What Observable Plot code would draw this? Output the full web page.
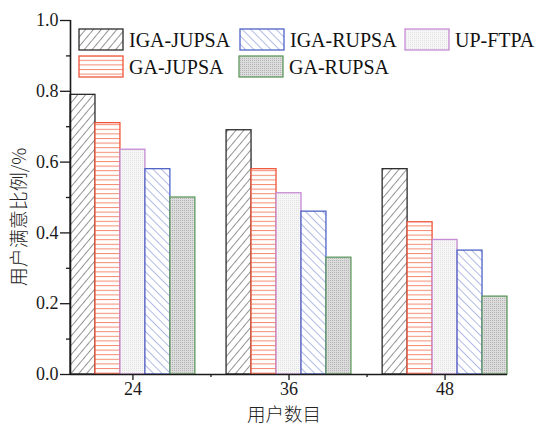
<!DOCTYPE html>
<html><head><meta charset="utf-8">
<script src="https://cdn.jsdelivr.net/npm/d3@7"></script>
<script src="https://cdn.jsdelivr.net/npm/@observablehq/plot@0.6"></script>
<style>body{margin:0;background:#fff}</style>
</head><body><div id="chart"></div>
<script>
const groups = [24, 36, 48];
const seriesNames = ["IGA-JUPSA", "GA-JUPSA", "UP-FTPA", "IGA-RUPSA", "GA-RUPSA"];
const IGA_JUPSA = [0.79, 0.69, 0.58];
const GA_JUPSA  = [0.71, 0.58, 0.43];
const UP_FTPA   = [0.635, 0.512, 0.38];
const IGA_RUPSA = [0.58, 0.46, 0.35];
const GA_RUPSA  = [0.50, 0.33, 0.22];
const seriesValues = [IGA_JUPSA, GA_JUPSA, UP_FTPA, IGA_RUPSA, GA_RUPSA];
const strokeColors = ["#2b2b2b", "#f0553a", "#c58bd3", "#4f63c6", "#5f9a5f"];
const yTicks = [0, 0.2, 0.4, 0.6, 0.8, 1.0];
const yMinor = [0.1, 0.3, 0.5, 0.7, 0.9];
const xMinor = [30, 42];
const xLabel = "用户数目";
const yLabel = "用户满意比例/%";

const groupWidth = 9.6, barW = groupWidth / seriesNames.length;
const serif = "'Liberation Serif', 'Times New Roman', serif";
const cjk = "'Noto Sans CJK SC', sans-serif";

const barMarks = seriesNames.map((name, i) =>
  Plot.rect(groups.map((g, j) => ({g, v: seriesValues[i][j]})), {
    x1: d => d.g - groupWidth / 2 + i * barW,
    x2: d => d.g - groupWidth / 2 + (i + 1) * barW,
    y1: 0, y2: "v",
    fill: `url(#pat${i})`, stroke: strokeColors[i], strokeWidth: 1.3
  })
);

const chart = Plot.plot({
  width: 538, height: 426,
  marginLeft: 70, marginTop: 20, marginBottom: 52, marginRight: 31,
  style: {fontFamily: serif, fontSize: "18px", background: "#fff", color: "#1a1a1a"},
  x: {type: "linear", domain: [19.2, 52.8]},
  y: {domain: [0, 1]},
  marks: [
    ...barMarks,
    Plot.axisY({ticks: yTicks, tickSize: 10, tickPadding: 2, tickFormat: d3.format(".1f"), fontSize: 18, label: null, strokeWidth: 1.3}),
    Plot.axisY({ticks: yMinor, tickSize: 4, tickFormat: () => "", label: null, strokeWidth: 1.3}),
    Plot.axisX({ticks: groups, tickSize: 6, tickPadding: 2, fontSize: 18, label: null, strokeWidth: 1.3}),
    Plot.axisX({ticks: xMinor, tickSize: 3, tickFormat: () => "", label: null, strokeWidth: 1.3}),
    Plot.ruleX([19.2], {strokeWidth: 1.6, stroke: "#1a1a1a"}),
    Plot.ruleY([0], {strokeWidth: 1.6, stroke: "#1a1a1a"})
  ]
});

const svg = d3.select(chart);
const defs = svg.insert("defs", ":first-child");
{
  const p = defs.append("pattern").attr("id", "pat0").attr("patternUnits", "userSpaceOnUse")
    .attr("width", 6).attr("height", 6).attr("patternTransform", "rotate(40)");
  p.append("rect").attr("width", 6).attr("height", 6).attr("fill", "#fff");
  p.append("line").attr("x1", 0).attr("y1", 0).attr("x2", 0).attr("y2", 6).attr("stroke", "#3a3a3a").attr("stroke-width", 1.1);
}
{
  const p = defs.append("pattern").attr("id", "pat1").attr("patternUnits", "userSpaceOnUse")
    .attr("width", 6).attr("height", 4.6);
  p.append("rect").attr("width", 6).attr("height", 4.6).attr("fill", "#fff");
  p.append("line").attr("x1", 0).attr("y1", 0.5).attr("x2", 6).attr("y2", 0.5).attr("stroke", "#f58a70").attr("stroke-width", 1);
}
{
  const p = defs.append("pattern").attr("id", "pat2").attr("patternUnits", "userSpaceOnUse")
    .attr("width", 2).attr("height", 2);
  p.append("rect").attr("width", 2).attr("height", 2).attr("fill", "#f6f6f6");
  p.append("rect").attr("width", 1).attr("height", 1).attr("fill", "#e2e2e2");
}
{
  const p = defs.append("pattern").attr("id", "pat3").attr("patternUnits", "userSpaceOnUse")
    .attr("width", 6).attr("height", 6).attr("patternTransform", "rotate(-45)");
  p.append("rect").attr("width", 6).attr("height", 6).attr("fill", "#fff");
  p.append("line").attr("x1", 0).attr("y1", 0).attr("x2", 0).attr("y2", 6).attr("stroke", "#6677cc").attr("stroke-width", 1);
}
{
  const p = defs.append("pattern").attr("id", "pat4").attr("patternUnits", "userSpaceOnUse")
    .attr("width", 2).attr("height", 2);
  p.append("rect").attr("width", 2).attr("height", 2).attr("fill", "#dcdcdc");
  p.append("rect").attr("width", 1).attr("height", 1).attr("fill", "#b4b4b4");
}

svg.append("text").attr("x", 284).attr("y", 421).attr("text-anchor", "middle")
  .attr("font-family", cjk).attr("font-weight", 300).attr("font-size", 18.5).attr("fill", "#222").text(xLabel);
svg.append("text").attr("transform", "translate(26,217) rotate(-90)").attr("text-anchor", "middle")
  .attr("font-family", cjk).attr("font-weight", 300).attr("font-size", 19).attr("fill", "#222").text(yLabel);

const legendOrder = [0, 3, 2, 1, 4];
const legendPos = [[79, 29], [240, 29], [405, 29], [79, 56], [239, 56]];
const lg = svg.append("g").attr("text-anchor", "start");
legendOrder.forEach((si, k) => {
  const [lx, ly] = legendPos[k];
  lg.append("rect").attr("x", lx).attr("y", ly).attr("width", 44).attr("height", 21)
    .attr("fill", `url(#pat${si})`).attr("stroke", strokeColors[si]).attr("stroke-width", 1.3);
  lg.append("text").attr("x", lx + 50).attr("y", ly + 18).attr("text-anchor", "start").attr("font-family", serif)
    .attr("font-size", 20).attr("fill", "#111").text(seriesNames[si]);
});

document.getElementById("chart").appendChild(chart);
</script></body></html>
